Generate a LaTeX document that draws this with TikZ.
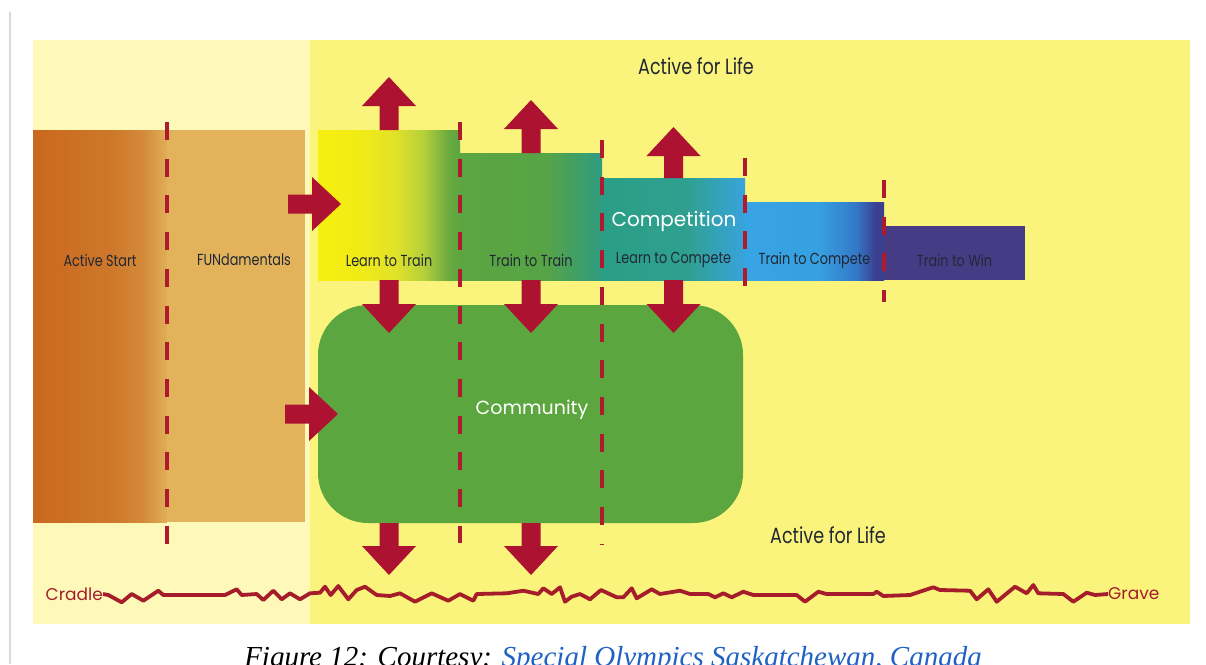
\documentclass[tikz,border=0pt]{standalone}
\usepackage{fontspec}
\newfontfamily\fut{Poppins}
\newfontfamily\futc[FakeStretch=0.8]{Poppins}
\newfontfamily\capf{Liberation Serif}
\definecolor{panelY}{HTML}{FAF47C}
\definecolor{paleY}{HTML}{FEF9B9}
\definecolor{funC}{HTML}{E3B35C}
\definecolor{asA}{HTML}{C9681F}
\definecolor{asB}{HTML}{CE782B}
\definecolor{asC}{HTML}{D48A3A}
\definecolor{asD}{HTML}{E0AE57}
\definecolor{ltA}{HTML}{F6EF0F}
\definecolor{ltB}{HTML}{F0EB16}
\definecolor{ltC}{HTML}{E2E22A}
\definecolor{ltD}{HTML}{B6D13A}
\definecolor{ltE}{HTML}{6BAA40}
\definecolor{grn}{HTML}{5BA641}
\definecolor{grnB}{HTML}{57A446}
\definecolor{teal}{HTML}{2E9C80}
\definecolor{lcA}{HTML}{2A9E86}
\definecolor{lcB}{HTML}{2FA090}
\definecolor{lcC}{HTML}{33A2B8}
\definecolor{lcD}{HTML}{38A3DC}
\definecolor{tcA}{HTML}{37A4E3}
\definecolor{tcB}{HTML}{36A0E0}
\definecolor{tcC}{HTML}{3478C8}
\definecolor{tcD}{HTML}{3B3F90}
\definecolor{twC}{HTML}{463C86}
\definecolor{commC}{HTML}{5CA63F}
\definecolor{arrowred}{HTML}{AD1331}
\definecolor{dashred}{HTML}{B01A2E}
\definecolor{zigred}{HTML}{A51C2B}
\definecolor{txt}{HTML}{222833}
\definecolor{linkblue}{HTML}{1F62C4}
\pgfdeclarehorizontalshading{asshade}{100bp}{color(0bp)=(asA); color(25bp)=(asA); color(55bp)=(asB); color(66bp)=(asC); color(75bp)=(asD); color(100bp)=(asD)}
\pgfdeclarehorizontalshading{lttshade}{100bp}{color(0bp)=(ltA); color(25bp)=(ltA); color(40bp)=(ltB); color(52bp)=(ltC); color(62bp)=(ltD); color(71bp)=(ltE); color(75bp)=(grn); color(100bp)=(grn)}
\pgfdeclarehorizontalshading{ttshade}{100bp}{color(0bp)=(grn); color(25bp)=(grn); color(55bp)=(grnB); color(75bp)=(teal); color(100bp)=(teal)}
\pgfdeclarehorizontalshading{ltcshade}{100bp}{color(0bp)=(lcA); color(25bp)=(lcA); color(55bp)=(lcB); color(65bp)=(lcC); color(75bp)=(lcD); color(100bp)=(lcD)}
\pgfdeclarehorizontalshading{tcshade}{100bp}{color(0bp)=(tcA); color(25bp)=(tcA); color(52bp)=(tcB); color(65bp)=(tcC); color(72bp)=(tcD); color(75bp)=(tcD); color(100bp)=(tcD)}
\begin{document}
\begin{tikzpicture}[x=1pt,y=-1pt,
  box/.style={draw=none,inner sep=0pt,outer sep=0pt,anchor=north west},
  lab/.style={font=\futc\fontsize{16}{19}\selectfont,text=txt,inner sep=0pt},
  biglab/.style={font=\fut\fontsize{20}{24}\selectfont,text=white,inner sep=0pt},
  lifelab/.style={font=\futc\fontsize{22}{26}\selectfont,text=txt,inner sep=0pt},
  endlab/.style={font=\fut\fontsize{17}{20}\selectfont,text=zigred,inner sep=0pt},
  divider/.style={draw=dashred,line width=4pt,dash pattern=on 18pt off 18.7pt},
  zig/.style={draw=zigred,line width=3.8pt,line join=round},
  barrow/.pic={\fill[arrowred] (-9.5,0) -- (-9.5,#1-29) -- (-27,#1-29) -- (0,#1) -- (27,#1-29) -- (9.5,#1-29) -- (9.5,0) -- cycle;}
]
\useasboundingbox (0,0) rectangle (1206,664);
\fill[white] (0,0) rectangle (1206,664);
\draw[black!15,line width=2pt] (10,12) -- (10,664);
% panel
\fill[panelY] (33,40) rectangle (1190,624);
\fill[paleY] (33,40) rectangle (310,624);
% stage boxes
\node[box,shading=asshade,minimum width=134pt,minimum height=392pt] (as) at (33,130) {};
\node[box,fill=funC,minimum width=138pt,minimum height=392pt] (fun) at (167,130) {};
\node[box,shading=lttshade,minimum width=142pt,minimum height=150pt] (ltt) at (318,130) {};
\node[box,shading=ttshade,minimum width=142pt,minimum height=127pt] (tt) at (460,153) {};
\node[box,shading=ltcshade,minimum width=143pt,minimum height=102pt] (ltc) at (602,178) {};
\node[box,shading=tcshade,minimum width=139pt,minimum height=78pt] (tc) at (745,202) {};
\node[box,fill=twC,minimum width=141pt,minimum height=54pt] (tw) at (884,226) {};
\node[box,fill=commC,rounded corners=50pt,minimum width=425pt,minimum height=218pt] (comm) at (318,305) {};
% labels
\coordinate (row) at (0,260);
\node[lab] (aslab) at (as.center |- row) {Active Start};
\node[lab,xshift=8pt] (funlab) at (fun.center |- row) {FUNdamentals};
\node[lab] (lttlab) at (ltt.center |- row) {Learn to Train};
\node[lab] (ttlab) at (tt.center |- row) {Train to Train};
\node[lab] (ltclab) at (ltc.center |- row) {Learn to Compete};
\node[lab] (tclab) at (tc.center |- row) {Train to Compete};
\node[lab] (twlab) at (tw.center |- row) {Train to Win};
\node[biglab] (compet) at (674,221) {Competition};
\node[biglab,font=\fut\fontsize{19}{23}\selectfont] (commlab) at (532,410) {Community};
\node[lifelab] (lifetop) at (696,66) {Active for Life};
\node[lifelab] (lifebot) at (828,535) {Active for Life};
% arrows
\pic[rotate=180] at (ltt.north) {barrow=53};
\pic[rotate=180] at (tt.north) {barrow=53};
\pic[rotate=180] at (ltc.north) {barrow=51};
\pic at (ltt.south) {barrow=53};
\pic at (tt.south) {barrow=53};
\pic at (ltc.south) {barrow=53};
\pic at (comm.south -| ltt.south) {barrow=52};
\pic at (comm.south -| tt.south) {barrow=52};
\coordinate (inA) at (288,204);
\coordinate (inB) at (285,414);
\pic[rotate=90] at (inA) {barrow=53};
\pic[rotate=90] at (inB) {barrow=53};
% dividers
\draw[divider] (167,122) -- (167,545);
\draw[divider] (460,122) -- (460,543);
\draw[divider] (602,140) -- (602,545);
\draw[divider] (745,158) -- (745,302);
\draw[divider] (884,180) -- (884,302);
% cradle to grave
\node[endlab,anchor=east] (cradle) at (103,594) {Cradle};
\node[endlab,anchor=west] (grave) at (1108,594) {Grave};
\draw[zig] (cradle.east) -- (108.3,595) -- (121.7,602.3) -- (131.7,594) -- (143.3,600.7) -- (158.3,590.7) -- (163.3,595) -- (225,595) -- (236.7,589.3) -- (241.7,595) -- (256.7,594) -- (263.3,600) -- (273.3,590.7) -- (281.7,599.3) -- (290,593.3) -- (300,599.3) -- (310,593.3) -- (320,592.7) -- (325,586.7) -- (330.7,595) -- (338.3,586) -- (348.3,599.3) -- (356.7,590) -- (365,586.7) -- (376.7,595) -- (390,596) -- (400,593.3) -- (415,601.7) -- (431.7,593.3) -- (448.3,600.7) -- (460,594) -- (473.3,600.7) -- (476.7,594) -- (506.7,593.3) -- (523.3,590.7) -- (538.3,594) -- (543.3,588.3) -- (551.7,594) -- (560,587.3) -- (565,601.7) -- (571.7,596.7) -- (580,594) -- (590,599.3) -- (601,590) -- (616.7,597.3) -- (623.3,597.3) -- (631.7,588.3) -- (636.7,598.3) -- (651.7,589.3) -- (660,594) -- (680,590.7) -- (690,594) -- (708.3,594) -- (715,597.3) -- (723.3,593.3) -- (731.7,597.3) -- (743.3,591.7) -- (753.3,595) -- (796.7,595) -- (805,601.7) -- (818.3,591.7) -- (826.7,594) -- (873.3,594) -- (876.7,591.7) -- (883.3,596) -- (910,595) -- (933.3,587.3) -- (940,590) -- (970,590.7) -- (976.7,599.3) -- (988.3,589.3) -- (996.7,601.7) -- (1015,586.7) -- (1026.7,593.3) -- (1033.3,585) -- (1038.3,593.3) -- (1063.3,594) -- (1073.3,601.7) -- (1086.7,592.7) -- (1095,595) -- (grave.west);
% caption
\node[anchor=base,inner sep=0pt,font=\capf\itshape\fontsize{29}{35}\selectfont] (cap) at (613,666) {Figure 12: Courtesy: \textcolor{linkblue}{Special Olympics Saskatchewan, Canada}};
\end{tikzpicture}
\end{document}
